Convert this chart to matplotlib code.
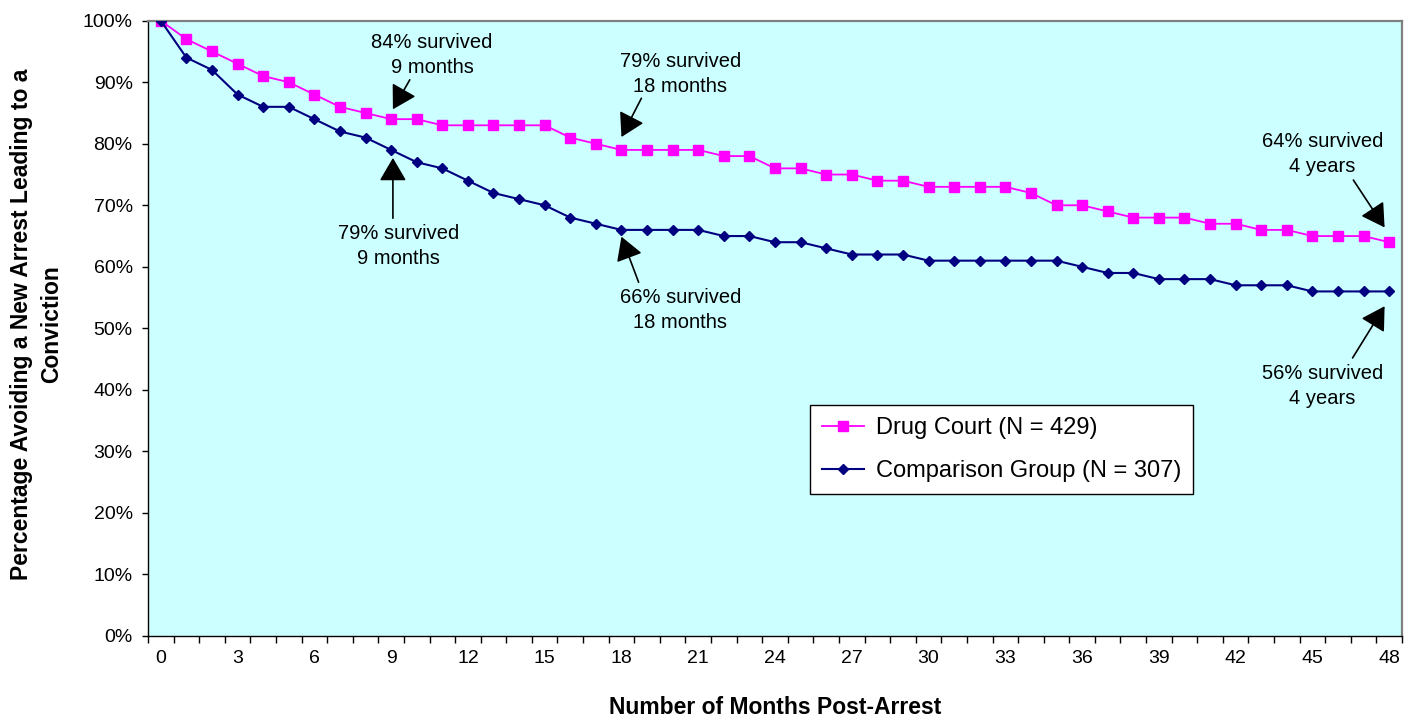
import matplotlib
matplotlib.use("Agg")
import matplotlib.pyplot as plt
from matplotlib.lines import Line2D
import numpy as np

plt.rcParams['font.family'] = ['Liberation Sans', 'DejaVu Sans']

# Survival data: percentage avoiding a new arrest leading to a conviction
months = list(range(0, 49))
drug_court = [100, 97, 95, 93, 91, 90, 88, 86, 85, 84,
              84, 83, 83, 83, 83, 83, 81, 80, 79, 79,
              79, 79, 78, 78, 76, 76, 75, 75, 74, 74,
              73, 73, 73, 73, 72, 70, 70, 69, 68, 68,
              68, 67, 67, 66, 66, 65, 65, 65, 64]
comparison = [100, 94, 92, 88, 86, 86, 84, 82, 81, 79,
              77, 76, 74, 72, 71, 70, 68, 67, 66, 66,
              66, 66, 65, 65, 64, 64, 63, 62, 62, 62,
              61, 61, 61, 61, 61, 61, 60, 59, 59, 58,
              58, 58, 57, 57, 57, 56, 56, 56, 56]

series_labels = ["Drug Court (N = 429)", "Comparison Group (N = 307)"]
y_ticks = list(range(0, 101, 10))
x_ticks = list(range(0, 49, 3))

PINK = "#FF00FF"
NAVY = "#000080"
BG = "#CCFFFF"

W, H = 1405, 717
fig = plt.figure(figsize=(W / 100, H / 100), dpi=100)
left, right, top, bottom = 148, 1402, 20.7, 636
ax = fig.add_axes([left / W, (H - bottom) / H, (right - left) / W, (bottom - top) / H])
ax.set_facecolor(BG)

ax.plot(months, drug_court, color=PINK, lw=1.3, marker='s', ms=7.4,
        markerfacecolor=PINK, markeredgecolor=PINK, zorder=3)
ax.plot(months, comparison, color=NAVY, lw=1.5, marker='D', ms=5.4,
        markerfacecolor=NAVY, markeredgecolor=NAVY, zorder=4)

ax.set_xlim(-0.5, 48.5)
ax.set_ylim(0, 100)

# axes and plot-area border
for s in ('left', 'bottom'):
    ax.spines[s].set_color('black')
    ax.spines[s].set_linewidth(1.0)
for s in ('top', 'right'):
    ax.spines[s].set_color('#808080')
    ax.spines[s].set_linewidth(1.6)

ax.set_yticks(y_ticks)
ax.set_yticklabels([f"{v}%" for v in y_ticks])
ax.tick_params(axis='y', direction='out', length=4, width=1, pad=7,
               labelsize=14, color='black')

ax.set_xticks(x_ticks)
ax.set_xticklabels([str(v) for v in x_ticks])
ax.set_xticks(np.arange(-0.5, 49, 1), minor=True)
ax.tick_params(axis='x', which='major', length=0, pad=10, labelsize=14)
ax.tick_params(axis='x', which='minor', direction='out', length=5, width=1,
               color='black')

fig.text(775 / W, (H - 708) / H, "Number of Months Post-Arrest",
         ha='center', va='center', fontsize=16.5, fontweight='bold')
fig.text(37 / W, (H - 324) / H,
         "Percentage Avoiding a New Arrest Leading to a\nConviction",
         ha='center', va='center', rotation=90, fontsize=16.5,
         fontweight='bold', multialignment='center', linespacing=1.4)

# callouts: (text, text centre, arrow tail, arrow tip) in data units
callouts = [
    ("84% survived\n9 months", (10.6, 94.4), (9.73, 90.4), (9.07, 85.6)),
    ("79% survived\n18 months", (20.3, 91.3), (18.78, 87.4), (18.0, 81.1)),
    ("64% survived\n4 years", (45.4, 78.4), (46.6, 74.1), (47.82, 66.4)),
    ("79% survived\n9 months", (9.3, 63.4), (9.07, 67.9), (9.07, 77.7)),
    ("66% survived\n18 months", (20.3, 53.0), (18.67, 57.5), (18.0, 64.9)),
    ("56% survived\n4 years", (45.4, 40.7), (46.57, 45.2), (47.82, 53.6)),
]
for txt, pos, tail, tip in callouts:
    ax.text(pos[0], pos[1], txt, ha='center', va='center', fontsize=14.5,
            linespacing=1.4, zorder=5)
    ax.annotate("", xy=tip, xytext=tail,
                arrowprops=dict(arrowstyle='-|>,head_length=0.65,head_width=0.38',
                                mutation_scale=22, lw=1.2, color='black',
                                shrinkA=0, shrinkB=0), zorder=6)

handles = [
    Line2D([], [], color=PINK, lw=1.3, marker='s', ms=7.4, markerfacecolor=PINK,
           markeredgecolor=PINK),
    Line2D([], [], color=NAVY, lw=1.5, marker='D', ms=5.4, markerfacecolor=NAVY,
           markeredgecolor=NAVY),
]
leg = ax.legend(handles, series_labels, loc='upper left',
                bbox_to_anchor=((810 - left) / (right - left), (bottom - 405) / (bottom - top)),
                fontsize=17, frameon=True, fancybox=False, framealpha=1,
                edgecolor='black', borderpad=0.5, handlelength=1.8,
                handletextpad=0.5, labelspacing=0.9, borderaxespad=0)
leg.get_frame().set_linewidth(1.0)
leg.set_zorder(7)

fig.savefig("out.png", dpi=100)
